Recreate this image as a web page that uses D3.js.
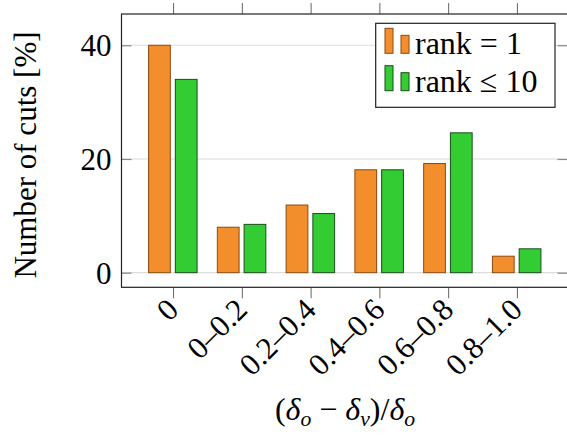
<!DOCTYPE html>
<html><head><meta charset="utf-8">
<script src="https://cdn.jsdelivr.net/npm/d3@7"></script>
<style>
body{margin:0;background:#fff;}
text{font-family:"Liberation Serif","DejaVu Serif",serif;fill:#000;}
</style></head>
<body>
<svg id="c" width="567" height="436"></svg>
<script>
const categories = ["0","0–0.2","0.2–0.4","0.4–0.6","0.6–0.8","0.8–1.0"];
const seriesNames = ["rank1","rank10"];
const rank1 = [40, 8.0, 11.9, 18.1, 19.2, 2.9];
const rank10 = [34.0, 8.5, 10.4, 18.1, 24.6, 4.2];
const yTicks = [0, 20, 40];
const fills = {rank1:"#F28E2B", rank10:"#33CC33"};
const strokes = {rank1:"#8A4A10", rank10:"#1B4D1B"};

const svg = d3.select("#c");
const L=121.5, R=568.5, T=14, B=287.3;
const FS = 31;
const FF = "Liberation Serif";

const y = d3.scaleLinear().domain([-2.57, 45.5]).range([B, T]);
const x = d3.scalePoint().domain(categories).range([L, R]).padding(0.75);
const xs = d3.scaleBand().domain(seriesNames).range([-24.5, 24]).paddingInner(0.187);

// grid
svg.append("g").selectAll("line").data(yTicks).join("line")
  .attr("x1", L).attr("x2", R).attr("y1", d=>y(d)).attr("y2", d=>y(d))
  .attr("stroke", "#dcdcdc").attr("stroke-width", 1.2);

// bars
const data = categories.map((c,i)=>({c, vals:[{s:"rank1",v:rank1[i]},{s:"rank10",v:rank10[i]}]}));
const g = svg.append("g").selectAll("g").data(data).join("g")
  .attr("transform", d=>`translate(${x(d.c)},0)`);
g.selectAll("rect").data(d=>d.vals).join("rect")
  .attr("x", d=>xs(d.s)).attr("width", xs.bandwidth())
  .attr("y", d=>y(d.v)).attr("height", d=>y(0)-y(d.v))
  .attr("fill", d=>fills[d.s]).attr("stroke", d=>strokes[d.s]).attr("stroke-width", 1);

// y axis inside ticks (left and right)
const yAxL = d3.axisLeft(y).tickValues(yTicks).tickSize(-10).tickPadding(10).tickFormat(d3.format("d"));
const gyl = svg.append("g").attr("transform", `translate(${L},0)`).call(yAxL);
gyl.select(".domain").remove();
gyl.selectAll(".tick line").attr("stroke", "#888").attr("stroke-width", 1.2);
gyl.selectAll(".tick text").attr("font-size", FS).attr("font-family", FF).attr("dy", "0.34em");
const yAxR = d3.axisRight(y).tickValues(yTicks).tickSize(-11).tickFormat("");
const gyr = svg.append("g").attr("transform", `translate(${R},0)`).call(yAxR);
gyr.select(".domain").remove();
gyr.selectAll(".tick line").attr("stroke", "#888").attr("stroke-width", 1.2);

// x axis outside ticks (top and bottom)
const xAxB = d3.axisBottom(x).tickSize(11).tickFormat("");
const gxb = svg.append("g").attr("transform", `translate(0,${B})`).call(xAxB);
gxb.select(".domain").remove();
gxb.selectAll(".tick line").attr("stroke", "#666").attr("stroke-width", 1);
const xAxT = d3.axisTop(x).tickSize(11).tickFormat("");
const gxt = svg.append("g").attr("transform", `translate(0,${T})`).call(xAxT);
gxt.select(".domain").remove();
gxt.selectAll(".tick line").attr("stroke", "#666").attr("stroke-width", 1);

// x tick labels rotated
svg.append("g").selectAll("text").data(categories).join("text")
  .attr("transform", d=>`translate(${x(d)-6},${B+11}) rotate(-45)`)
  .attr("text-anchor", "end").attr("dy", "0.6em")
  .attr("font-size", FS).text(d=>d);

// frame
svg.append("rect").attr("x", L).attr("y", T).attr("width", R-L).attr("height", B-T)
  .attr("fill", "none").attr("stroke", "#222").attr("stroke-width", 1.2);

// y label
svg.append("text").attr("transform", `translate(36,155) rotate(-90)`)
  .attr("text-anchor", "middle").attr("font-size", FS).text("Number of cuts [%]");

// x label
const xl = svg.append("text").attr("x", (L+R)/2).attr("y", 420).attr("text-anchor", "middle").attr("font-size", FS+1);
const sub = FS*0.7, sh = 6;
xl.append("tspan").text("(");
xl.append("tspan").attr("font-style","italic").text("δ");
xl.append("tspan").attr("font-style","italic").attr("font-size", sub).attr("dy", sh).text("o");
xl.append("tspan").attr("dy", -sh).text(" − ");
xl.append("tspan").attr("font-style","italic").text("δ");
xl.append("tspan").attr("font-style","italic").attr("font-size", sub).attr("dy", sh).text("v");
xl.append("tspan").attr("dy", -sh).text(")/");
xl.append("tspan").attr("font-style","italic").text("δ");
xl.append("tspan").attr("font-style","italic").attr("font-size", sub).attr("dy", sh).text("o");

// legend
const lg = svg.append("g");
lg.append("rect").attr("x", 375.7).attr("y", 23.3).attr("width", 179.3).attr("height", 84)
  .attr("fill", "#fff").attr("stroke", "#222").attr("stroke-width", 1.2);
const legendItems = [{s:"rank1", label:"rank = 1", base:53.3},{s:"rank10", label:"rank ≤ 10", base:90.7}];
legendItems.forEach(it=>{
  lg.append("rect").attr("x",385).attr("y",it.base-25).attr("width",8).attr("height",25)
    .attr("fill",fills[it.s]).attr("stroke",strokes[it.s]);
  lg.append("rect").attr("x",401).attr("y",it.base-18).attr("width",8).attr("height",18)
    .attr("fill",fills[it.s]).attr("stroke",strokes[it.s]);
  lg.append("text").attr("x",415).attr("y",it.base+1).attr("font-size",FS+1).text(it.label);
});
</script>
</body></html>
